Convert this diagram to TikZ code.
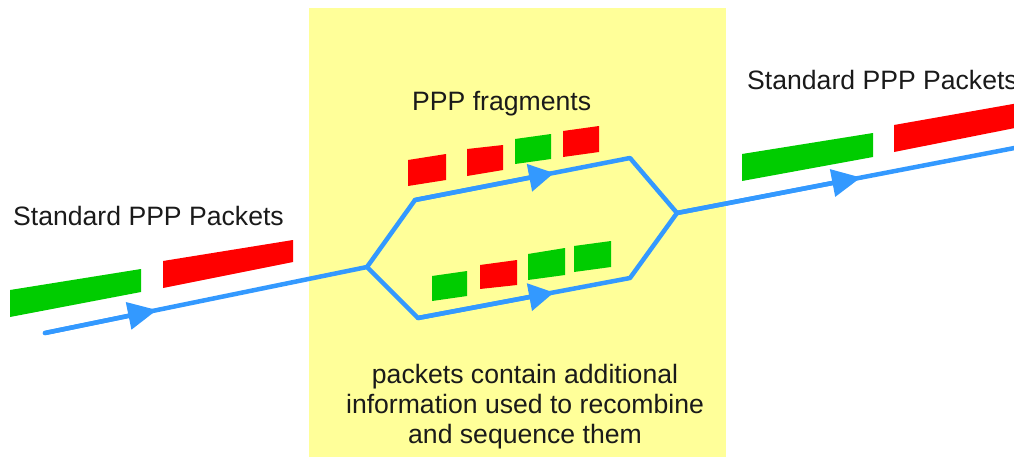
\documentclass[tikz,border=0pt]{standalone}
\usepackage{fontspec}
\setmainfont{Liberation Sans}
\usetikzlibrary{arrows.meta}
\definecolor{ppyellow}{HTML}{FFFF99}
\definecolor{ppblue}{HTML}{3399FF}
\definecolor{ppgreen}{HTML}{00CC00}
\definecolor{ppred}{HTML}{FF0000}
\definecolor{pptext}{HTML}{1A1A1A}
\begin{document}
\begin{tikzpicture}[x=1pt,y=-1pt,
  flow/.style={draw=ppblue,line width=4.5pt,line join=round,line cap=round},
  tipbig/.style={flow,-{Triangle[length=29pt,width=27pt]}},
  tipmid/.style={flow,-{Triangle[length=25pt,width=27pt]}},
  txt/.style={font=\fontsize{26.6}{30}\selectfont,text=pptext,inner sep=0pt},
  greenpk/.style={fill=ppgreen},
  redpk/.style={fill=ppred}]
\useasboundingbox (0,0) rectangle (1014,458);
\clip (0,0) rectangle (1014,458);
% yellow area
\fill[ppyellow] (309,8) rectangle (726,457);

% coordinates
\coordinate (start) at (45,333);
\coordinate (split) at (367,267);
\coordinate (up1) at (415,200);
\coordinate (up2) at (630,158);
\coordinate (lo1) at (418,318);
\coordinate (lo2) at (630,278);
\coordinate (join) at (677,213);
\coordinate (finish) at (1030,145);
\coordinate (tipL) at (157,310);
\coordinate (tipU) at (554,173);
\coordinate (tipD) at (554,292.5);
\coordinate (tipR) at (861,177.5);

% left packets
\fill[greenpk] (10,290) -- (141,269) -- (141,292) -- (10,317) -- cycle;
\fill[redpk] (163,261) -- (293,240) -- (293,262) -- (163,288) -- cycle;
% right packets
\fill[greenpk] (742,154) -- (873,133) -- (873,157) -- (742,181) -- cycle;
\fill[redpk] (894,125) -- (1030,101) -- (1030,125) -- (894,152) -- cycle;
% upper fragments
\fill[redpk] (408,160) -- (446,154) -- (446,180) -- (408,186) -- cycle;
\fill[redpk] (467,149) -- (503,145) -- (503,170) -- (467,176) -- cycle;
\fill[greenpk] (515,139) -- (551,134) -- (551,159) -- (515,164) -- cycle;
\fill[redpk] (563,131) -- (599,126) -- (599,152) -- (563,157) -- cycle;
% lower fragments
\fill[greenpk] (432,276) -- (467,271) -- (467,296) -- (432,301) -- cycle;
\fill[redpk] (480,265) -- (517,260) -- (517,285) -- (480,289) -- cycle;
\fill[greenpk] (528,254) -- (565,248) -- (565,275) -- (528,280) -- cycle;
\fill[greenpk] (574,246) -- (611,241) -- (611,267) -- (574,272) -- cycle;

% flow lines
\draw[flow] (start) -- (split);
\draw[tipbig] (start) -- (tipL);
\draw[flow] (split) -- (up1) -- (up2) -- (join);
\draw[tipmid] (up1) -- (tipU);
\draw[flow] (split) -- (lo1) -- (lo2) -- (join);
\draw[tipmid] (lo1) -- (tipD);
\draw[flow] (join) -- (finish);
\draw[tipbig] (join) -- (tipR);

% texts
\node[txt,anchor=base west] (inlabel) at (13,225) {Standard PPP Packets};
\node[txt,anchor=base west] (outlabel) at (747,89) {Standard PPP Packets};
\node[txt,anchor=base west] (fraglabel) at (412,110) {PPP fragments};
\node[txt,anchor=north,align=center] (note) at (525,364)
  {packets contain additional\\information used to recombine\\and sequence them};
\end{tikzpicture}
\end{document}
